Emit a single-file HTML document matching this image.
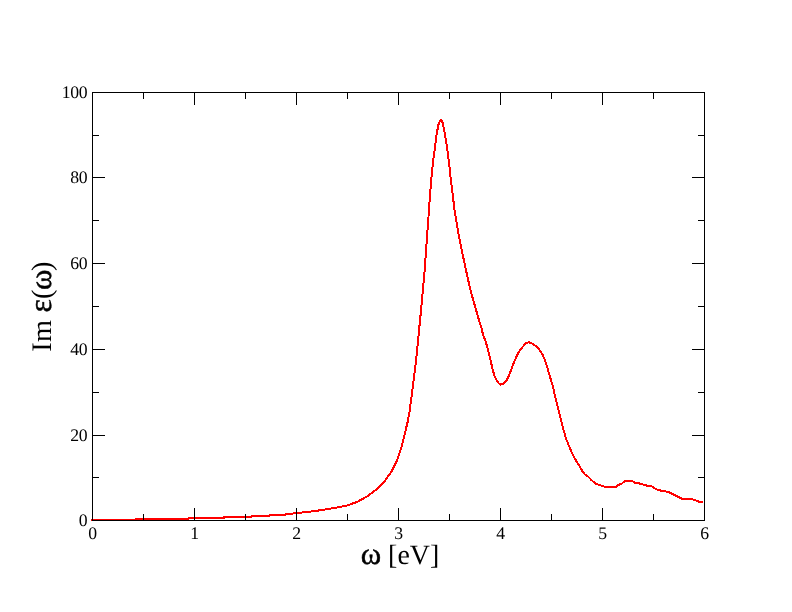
<!DOCTYPE html>
<html><head><meta charset="utf-8"><title>Im epsilon(omega)</title>
<style>
html,body{margin:0;padding:0;background:#fff;}
svg{display:block;}
text{font-family:"Liberation Serif","DejaVu Serif",serif;fill:#000;text-rendering:geometricPrecision;}
.t{font-size:17.7px;letter-spacing:-0.3px;}
.a{font-size:28.3px;}
.g{font-size:31px;stroke:#000;stroke-width:0.45px;}
.g2{font-size:31.8px;stroke:#000;stroke-width:0.45px;}
</style></head>
<body>
<svg width="792" height="612" viewBox="0 0 792 612">
<rect width="792" height="612" fill="#fff"/>
<polyline points="91.0,520.0 135.5,520.0 136.0,519.0 188.5,519.0 189.0,518.0 223.8,518.0 224.3,517.0 251.6,517.0 252.1,516.0 269.3,516.0 269.8,515.0 285.2,515.0 285.7,514.2 296.4,513.2 315.4,511.0 333.0,508.2 347.2,505.5 357.8,501.6 366.6,496.7 375.5,490.1 384.3,481.8 391.4,471.6 396.7,461.0 401.1,448.6 404.6,434.4 407.6,422.1 409.6,411.4 413.0,385.2 416.2,359.0 418.8,332.8 421.4,306.6 423.5,283.1 424.1,278.0 425.0,265.0 426.0,251.9 427.0,237.2 428.0,224.1 429.0,209.4 429.9,196.3 431.2,180.7 432.1,170.3 433.0,162.5 433.9,154.6 435.1,146.8 435.9,139.0 437.2,131.1 438.5,124.6 439.4,122.0 440.2,120.6 440.9,120.3 441.7,120.6 442.4,122.0 443.3,125.9 444.3,131.1 445.7,139.0 447.0,146.8 447.9,154.6 448.9,162.5 450.0,170.3 450.8,180.0 452.2,189.8 453.3,199.6 454.4,209.4 456.1,219.2 457.7,229.0 459.5,239.3 462.1,251.8 464.3,262.1 466.5,272.4 469.1,284.1 471.6,294.4 474.6,304.7 477.5,315.0 479.7,322.5 481.5,327.6 483.1,335.2 485.3,340.2 487.1,346.5 489.0,354.1 490.9,361.7 492.6,369.2 494.3,375.6 496.6,380.0 498.5,383.1 500.7,384.6 503.6,383.8 506.1,381.2 508.6,376.2 511.1,369.9 513.7,362.9 516.2,357.2 519.1,351.6 522.5,347.1 525.7,343.4 528.2,342.3 530.7,342.7 533.9,344.9 537.0,346.8 540.2,350.9 542.7,354.7 545.2,361.0 547.4,368.0 549.6,375.6 551.9,383.1 553.7,389.4 554.9,395.8 557.6,406.6 560.3,417.4 563.0,428.2 566.2,439.0 569.8,448.0 573.8,456.9 578.3,464.1 581.9,470.4 584.9,474.4 588.2,476.7 592.1,480.7 596.3,483.9 600.8,485.4 605.3,486.8 610.6,487.0 615.7,486.9 618.8,484.8 622.0,483.4 624.9,481.0 628.9,480.8 632.1,481.0 634.6,482.7 639.0,483.4 643.5,484.6 647.9,485.9 651.7,486.3 654.8,488.4 658.0,490.1 663.0,490.9 668.7,492.2 673.1,494.3 678.2,496.9 682.0,498.9 687.0,498.9 692.1,499.1 695.9,500.4 699.0,501.7 703.0,502.0" fill="none" stroke="#ff0000" stroke-width="2" stroke-linejoin="round" shape-rendering="crispEdges"/>
<g fill="#000" shape-rendering="crispEdges">
<rect x="92" y="92" width="613" height="1"/>
<rect x="92" y="520" width="613" height="1"/>
<rect x="92" y="92" width="1" height="429"/>
<rect x="704" y="92" width="1" height="429"/>
<rect x="92" y="508" width="1" height="12"/>
<rect x="92" y="93" width="1" height="12"/>
<rect x="143" y="514" width="1" height="6"/>
<rect x="143" y="93" width="1" height="6"/>
<rect x="194" y="508" width="1" height="12"/>
<rect x="194" y="93" width="1" height="12"/>
<rect x="245" y="514" width="1" height="6"/>
<rect x="245" y="93" width="1" height="6"/>
<rect x="296" y="508" width="1" height="12"/>
<rect x="296" y="93" width="1" height="12"/>
<rect x="347" y="514" width="1" height="6"/>
<rect x="347" y="93" width="1" height="6"/>
<rect x="398" y="508" width="1" height="12"/>
<rect x="398" y="93" width="1" height="12"/>
<rect x="449" y="514" width="1" height="6"/>
<rect x="449" y="93" width="1" height="6"/>
<rect x="500" y="508" width="1" height="12"/>
<rect x="500" y="93" width="1" height="12"/>
<rect x="551" y="514" width="1" height="6"/>
<rect x="551" y="93" width="1" height="6"/>
<rect x="602" y="508" width="1" height="12"/>
<rect x="602" y="93" width="1" height="12"/>
<rect x="653" y="514" width="1" height="6"/>
<rect x="653" y="93" width="1" height="6"/>
<rect x="704" y="508" width="1" height="12"/>
<rect x="704" y="93" width="1" height="12"/>
<rect x="93" y="520" width="12" height="1"/>
<rect x="692" y="520" width="12" height="1"/>
<rect x="93" y="477" width="6" height="1"/>
<rect x="698" y="477" width="6" height="1"/>
<rect x="93" y="435" width="12" height="1"/>
<rect x="692" y="435" width="12" height="1"/>
<rect x="93" y="392" width="6" height="1"/>
<rect x="698" y="392" width="6" height="1"/>
<rect x="93" y="349" width="12" height="1"/>
<rect x="692" y="349" width="12" height="1"/>
<rect x="93" y="306" width="6" height="1"/>
<rect x="698" y="306" width="6" height="1"/>
<rect x="93" y="263" width="12" height="1"/>
<rect x="692" y="263" width="12" height="1"/>
<rect x="93" y="220" width="6" height="1"/>
<rect x="698" y="220" width="6" height="1"/>
<rect x="93" y="177" width="12" height="1"/>
<rect x="692" y="177" width="12" height="1"/>
<rect x="93" y="135" width="6" height="1"/>
<rect x="698" y="135" width="6" height="1"/>
<rect x="93" y="92" width="12" height="1"/>
<rect x="692" y="92" width="12" height="1"/>
</g>
<g opacity="0.999">
<text x="92.6" y="539.3" text-anchor="middle" class="t">0</text>
<text x="194.6" y="539.3" text-anchor="middle" class="t">1</text>
<text x="296.6" y="539.3" text-anchor="middle" class="t">2</text>
<text x="398.6" y="539.3" text-anchor="middle" class="t">3</text>
<text x="500.6" y="539.3" text-anchor="middle" class="t">4</text>
<text x="602.6" y="539.3" text-anchor="middle" class="t">5</text>
<text x="704.6" y="539.3" text-anchor="middle" class="t">6</text>
<text x="87.3" y="526.3" text-anchor="end" class="t">0</text>
<text x="87.3" y="441.3" text-anchor="end" class="t">20</text>
<text x="87.3" y="355.3" text-anchor="end" class="t">40</text>
<text x="87.3" y="269.3" text-anchor="end" class="t">60</text>
<text x="87.3" y="183.3" text-anchor="end" class="t">80</text>
<text x="87.3" y="98.3" text-anchor="end" class="t">100</text>
<text y="564.4" class="a"><tspan x="360.8" class="g">ω </tspan><tspan x="388.1" style="font-size:27.9px">[eV]</tspan></text>
<text transform="translate(51,0) rotate(-90)" class="a"><tspan x="-351.75">I</tspan><tspan x="-341.95">m </tspan><tspan x="-312.6" class="g2">ε</tspan><tspan x="-299">(</tspan><tspan x="-289.95" class="g">ω</tspan><tspan x="-271">)</tspan></text>
</g>
</svg>
</body></html>
